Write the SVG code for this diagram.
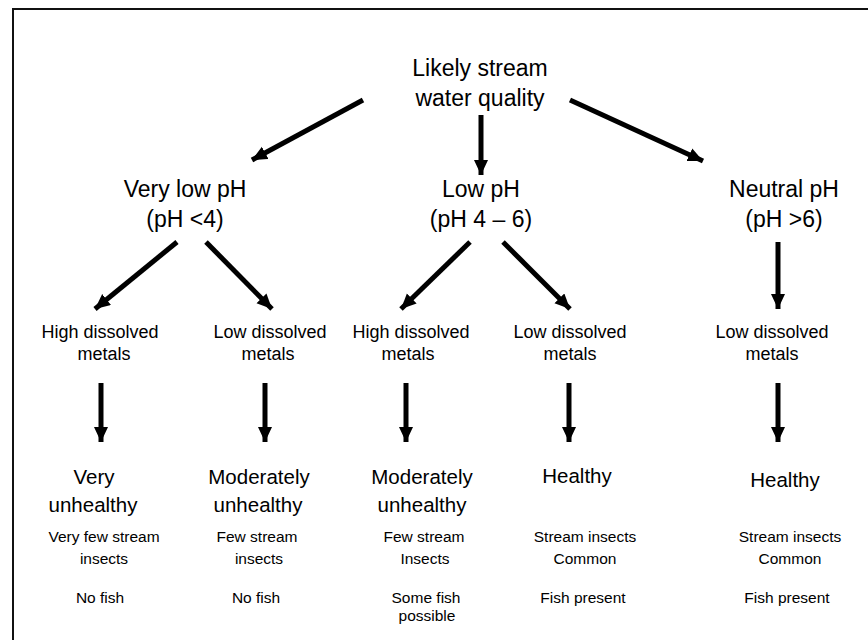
<svg xmlns="http://www.w3.org/2000/svg" width="868" height="640" viewBox="0 0 868 640">
<defs>
<marker id="ah" markerUnits="userSpaceOnUse" markerWidth="16" markerHeight="16" viewBox="0 0 16 16" refX="15" refY="7" orient="auto">
<path d="M0,0 L15,7 L0,14 Z" fill="#000"/>
</marker>
<style>
text{font-family:"Liberation Sans",Arial,sans-serif;fill:#000;text-anchor:middle}
.l1{font-size:23px}
.l3{font-size:18px}
.l4{font-size:20.5px}
.l5{font-size:15.5px}
.c line{stroke:#000;stroke-width:5;marker-end:url(#ah)}
</style>
</defs>
<rect width="868" height="640" fill="#fff"/>
<rect x="13" y="9" width="870" height="650" fill="none" stroke="#111" stroke-width="2"/>
<g id="connectors" class="c">
<line x1="363" y1="100" x2="252" y2="160"/>
<line x1="481" y1="115" x2="481" y2="175"/>
<line x1="570" y1="100" x2="703" y2="161"/>
<line x1="177" y1="242" x2="95" y2="309"/>
<line x1="206" y1="242" x2="272" y2="309"/>
<line x1="470" y1="242" x2="401" y2="309"/>
<line x1="503" y1="242" x2="570" y2="309"/>
<line x1="778" y1="242" x2="778" y2="309"/>
<line x1="101" y1="383" x2="101" y2="442"/>
<line x1="265" y1="383" x2="265" y2="442"/>
<line x1="406" y1="383" x2="406" y2="442"/>
<line x1="569" y1="383" x2="569" y2="442"/>
<line x1="778" y1="383" x2="778" y2="442"/>
</g>
<g id="root"><text class="l1" x="480" y="76">Likely stream</text><text class="l1" x="480" y="106">water quality</text></g>
<g id="verylow"><text class="l1" x="185" y="197">Very low pH</text><text class="l1" x="185" y="227">(pH &lt;4)</text></g>
<g id="low"><text class="l1" x="481" y="197">Low pH</text><text class="l1" x="481" y="227">(pH 4 – 6)</text></g>
<g id="neutral"><text class="l1" x="784" y="197">Neutral pH</text><text class="l1" x="784" y="227">(pH &gt;6)</text></g>
<g id="m1"><text class="l3" x="100" y="338">High dissolved</text><text class="l3" x="104" y="360">metals</text></g>
<g id="m2"><text class="l3" x="270" y="338">Low dissolved</text><text class="l3" x="268" y="360">metals</text></g>
<g id="m3"><text class="l3" x="411" y="338">High dissolved</text><text class="l3" x="408" y="360">metals</text></g>
<g id="m4"><text class="l3" x="570" y="338">Low dissolved</text><text class="l3" x="570" y="360">metals</text></g>
<g id="m5"><text class="l3" x="772" y="338">Low dissolved</text><text class="l3" x="772" y="360">metals</text></g>
<g id="o1"><text class="l4" x="94" y="484">Very</text><text class="l4" x="93" y="512">unhealthy</text>
<text class="l5" x="104" y="542">Very few stream</text><text class="l5" x="104" y="564">insects</text><text class="l5" x="100" y="603">No fish</text></g>
<g id="o2"><text class="l4" x="259" y="484">Moderately</text><text class="l4" x="258" y="512">unhealthy</text>
<text class="l5" x="257" y="542">Few stream</text><text class="l5" x="259" y="564">insects</text><text class="l5" x="256" y="603">No fish</text></g>
<g id="o3"><text class="l4" x="422" y="484">Moderately</text><text class="l4" x="422" y="512">unhealthy</text>
<text class="l5" x="424" y="542">Few stream</text><text class="l5" x="425" y="564">Insects</text><text class="l5" x="426" y="603">Some fish</text><text class="l5" x="427" y="621">possible</text></g>
<g id="o4"><text class="l4" x="577" y="483">Healthy</text>
<text class="l5" x="585" y="542">Stream insects</text><text class="l5" x="585" y="564">Common</text><text class="l5" x="583" y="603">Fish present</text></g>
<g id="o5"><text class="l4" x="785" y="487">Healthy</text>
<text class="l5" x="790" y="542">Stream insects</text><text class="l5" x="790" y="564">Common</text><text class="l5" x="787" y="603">Fish present</text></g>
</svg>
